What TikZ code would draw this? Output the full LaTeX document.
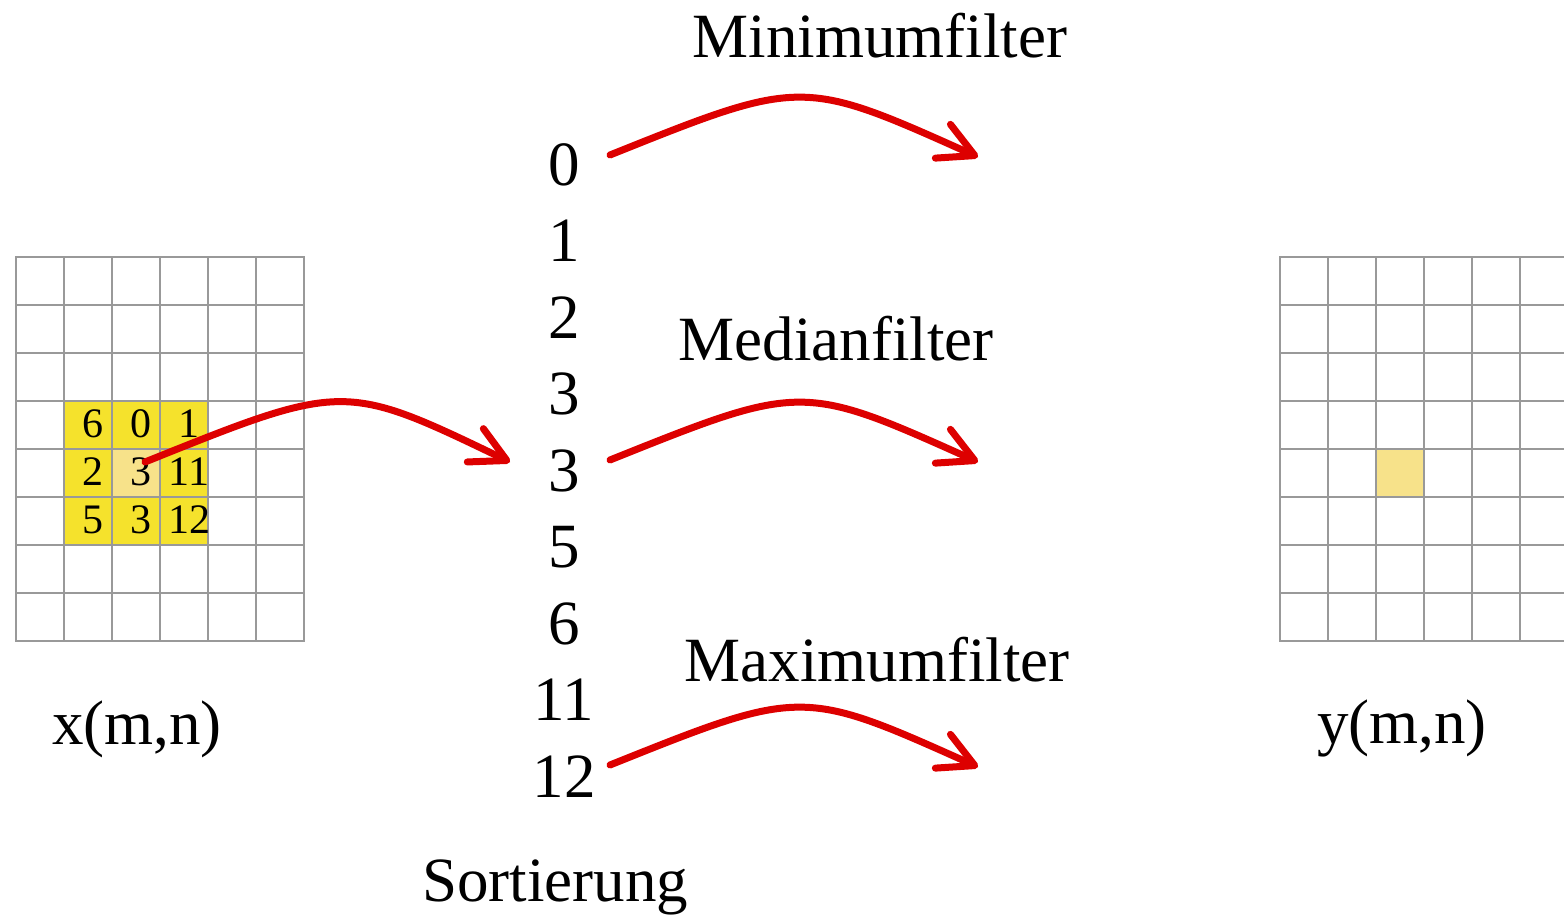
\documentclass[tikz,border=0pt]{standalone}
\usepackage{fontspec}
\setmainfont{Liberation Serif}
\usetikzlibrary{arrows.meta}
\definecolor{gridgray}{HTML}{999999}
\definecolor{winyellow}{HTML}{F5E22C}
\definecolor{centeryellow}{HTML}{F7E28A}
\definecolor{arrowred}{HTML}{DD0000}
\begin{document}
\begin{tikzpicture}[x=1pt,y=-1pt,
  big/.style={font=\fontsize{63}{63}\selectfont, inner sep=0pt, anchor=base},
  cellnum/.style={font=\fontsize{42}{42}\selectfont, inner sep=0pt, anchor=base},
  gridline/.style={draw=gridgray, line width=2.8pt, line cap=rect},
  redarrow/.style={draw=arrowred, line width=7pt, line cap=round,
    -{Straight Barb[length=35pt,width=37pt,round]}}]

\useasboundingbox (0,0) rectangle (1564,916);

% ---------- left image x(m,n) ----------
\fill[winyellow] (64,401) rectangle (208,545);
\fill[centeryellow] (112,449) rectangle (160,497);
\foreach \i in {0,...,6} \draw[gridline] ({16+48*\i},257) -- ({16+48*\i},641);
\foreach \j in {0,...,8} \draw[gridline] (16,{257+48*\j}) -- (304,{257+48*\j});

\node[cellnum] (w11) at (93,437) {6};
\node[cellnum] (w12) at (141,437) {0};
\node[cellnum] (w13) at (189,437) {1};
\node[cellnum] (w21) at (93,485) {2};
\node[cellnum] (w22) at (141,485) {3};
\node[cellnum] (w23) at (189,485) {11};
\node[cellnum] (w31) at (93,533) {5};
\node[cellnum] (w32) at (141,533) {3};
\node[cellnum] (w33) at (189,533) {12};

\node[big] (xlab) at (137,744) {x(m,n)};

% ---------- right image y(m,n) ----------
\fill[centeryellow] (1376,449) rectangle (1424,497);
\foreach \i in {0,...,6} \draw[gridline] ({1280+48*\i},257) -- ({1280+48*\i},641);
\foreach \j in {0,...,8} \draw[gridline] (1280,{257+48*\j}) -- (1568,{257+48*\j});

\node[big] (ylab) at (1402,743) {y(m,n)};

% ---------- sorted column ----------
\node[big] (n0) at (564,185) {0};
\node[big] (n1) at (564,261.5) {1};
\node[big] (n2) at (564,338) {2};
\node[big] (n3) at (564,414.5) {3};
\node[big] (n4) at (564,491) {3};
\node[big] (n5) at (564,567.5) {5};
\node[big] (n6) at (564,644) {6};
\node[big] (n7) at (564,720.5) {11};
\node[big] (n8) at (564,797) {12};

\node[big] (sortlab) at (555,901) {Sortierung};

% ---------- filter labels ----------
\node[big] (minlab) at (880,57) {Minimumfilter};
\node[big] (medlab) at (836,360) {Medianfilter};
\node[big] (maxlab) at (877,681) {Maximumfilter};

% ---------- arrow end points ----------
\coordinate (cstart) at (145,462);
\coordinate (cend) at (510,462);
\coordinate (minS) at (610,155);
\coordinate (minE) at (978,157);
\coordinate (medS) at (610,460);
\coordinate (medE) at (978,462);
\coordinate (maxS) at (610,765);
\coordinate (maxE) at (978,767);

% ---------- arrows ----------
\draw[redarrow] (cstart) .. controls (344,382) and (344,382) .. (cend);
\draw[redarrow] (minS) .. controls (802,78) and (802,78) .. (minE);
\draw[redarrow] (medS) .. controls (802,383) and (802,383) .. (medE);
\draw[redarrow] (maxS) .. controls (802,688) and (802,688) .. (maxE);

\end{tikzpicture}
\end{document}
